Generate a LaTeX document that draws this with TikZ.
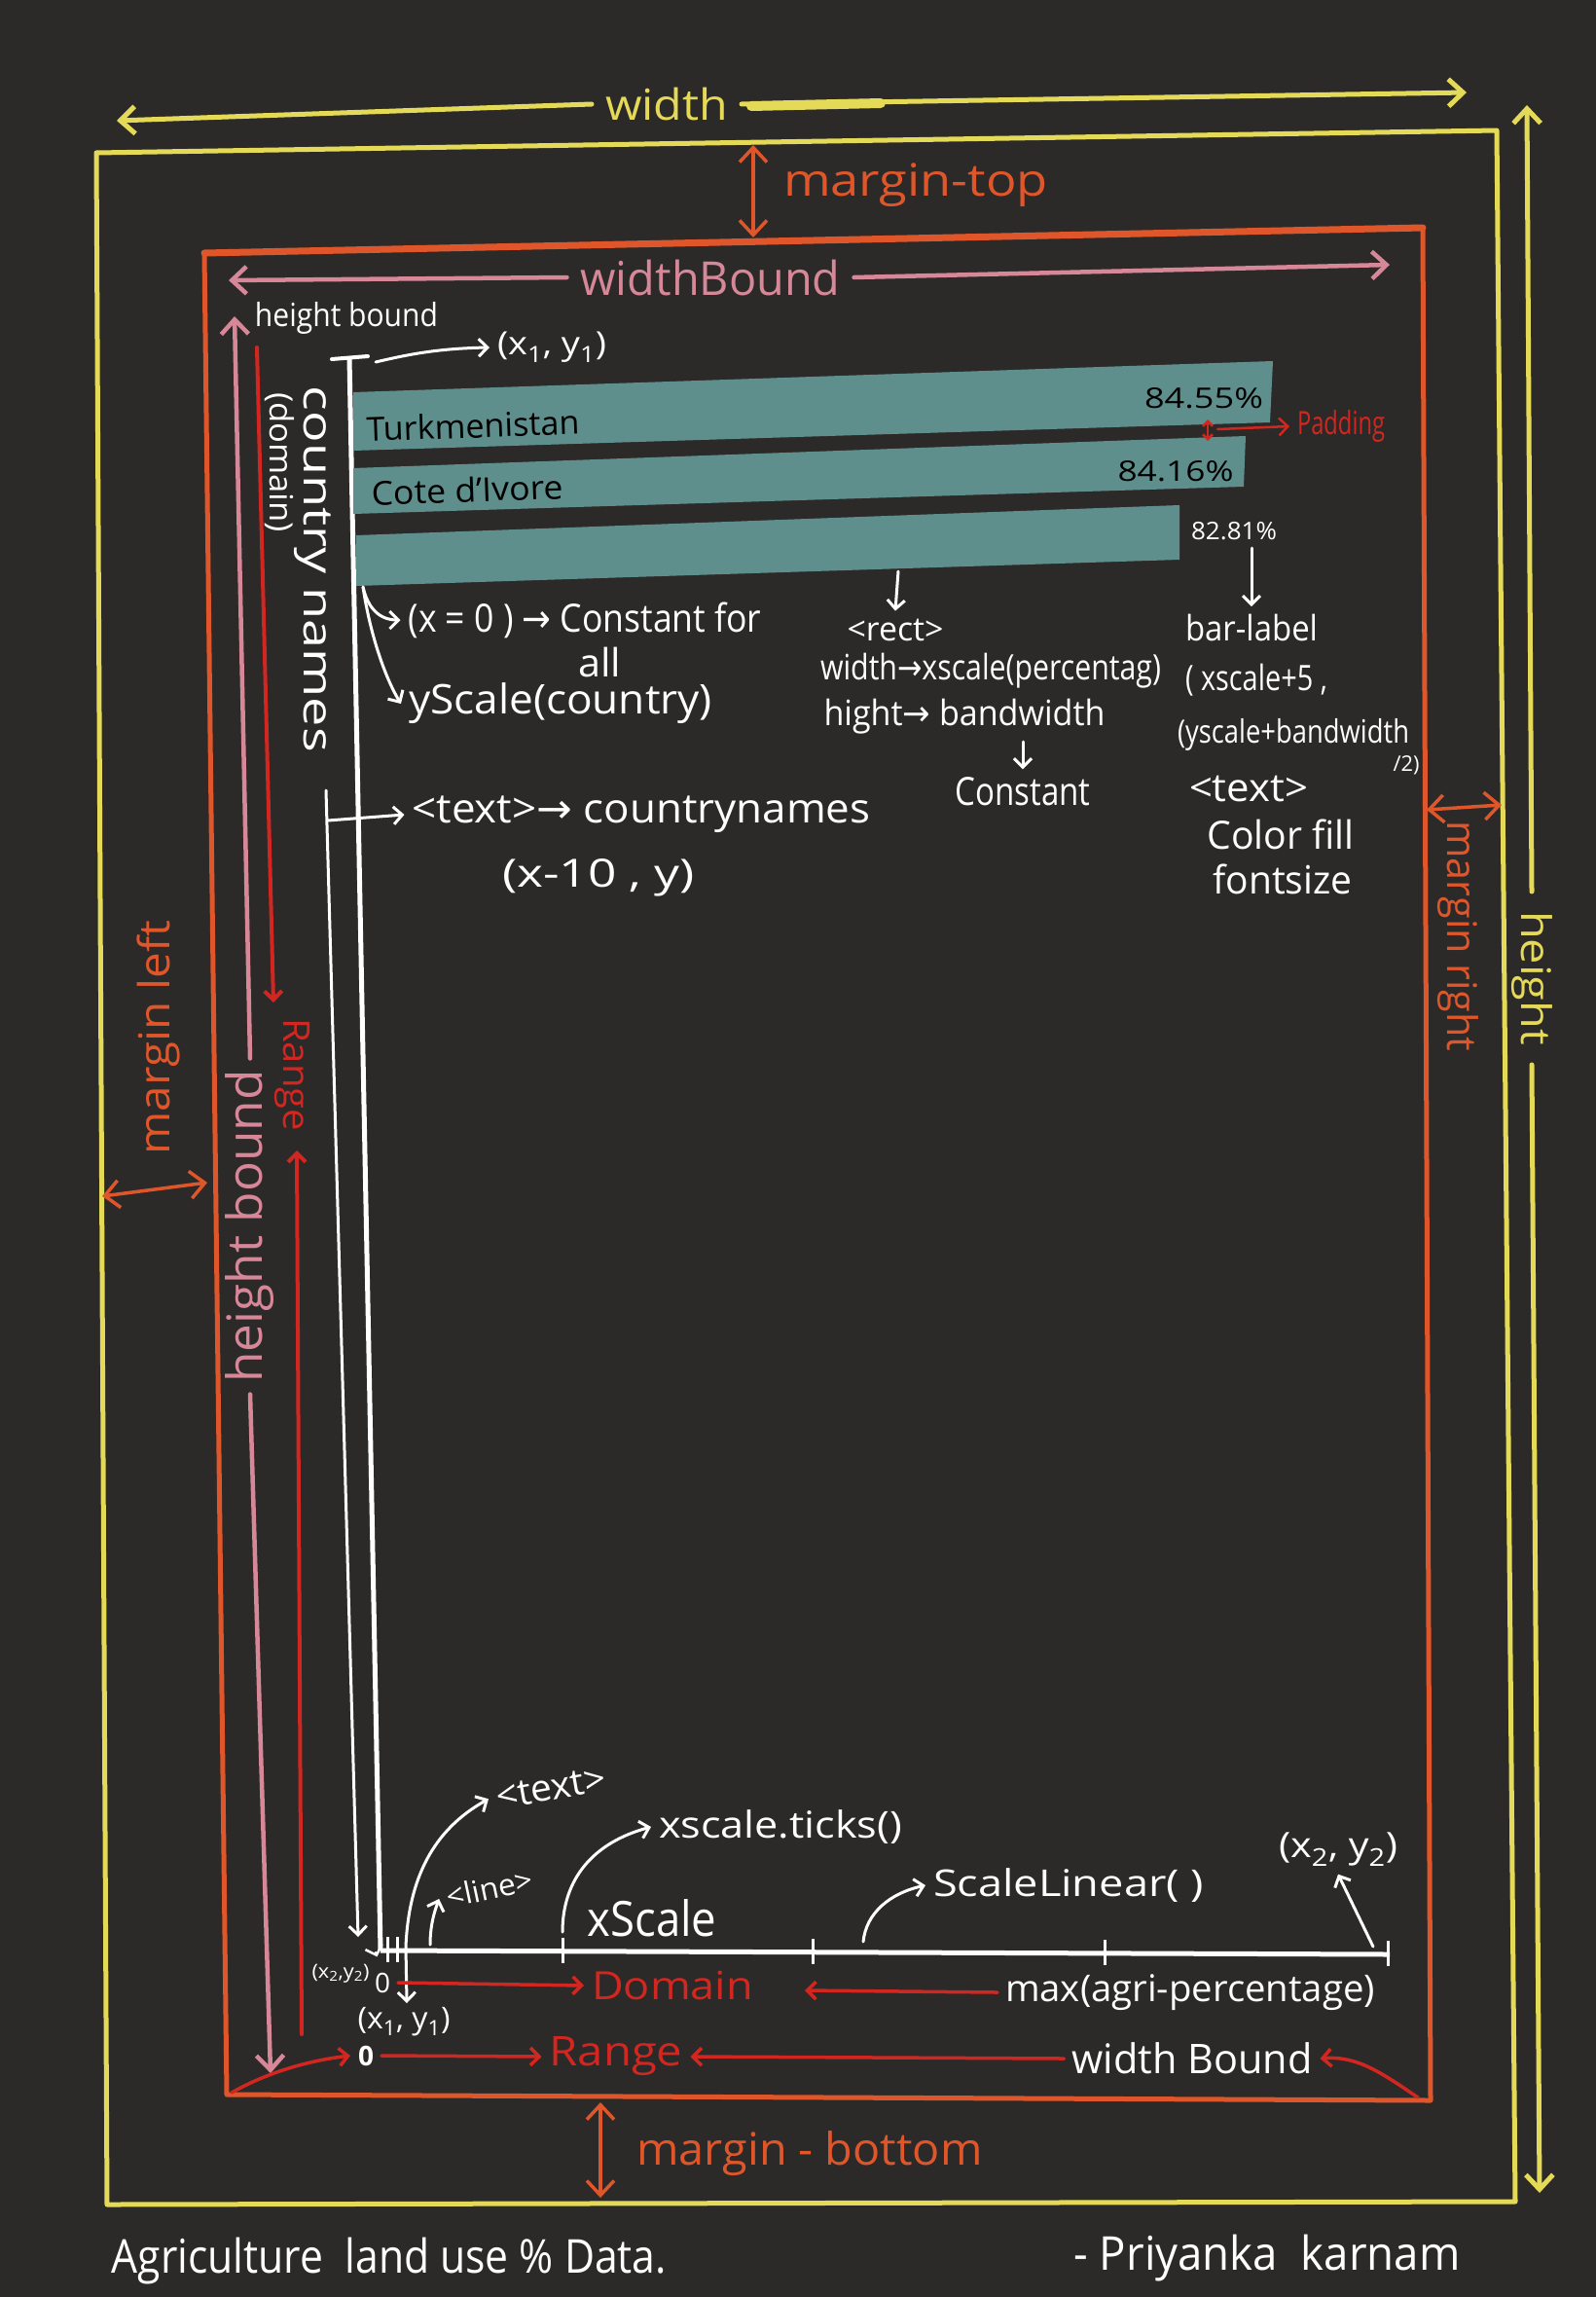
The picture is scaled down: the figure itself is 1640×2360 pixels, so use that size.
\documentclass[tikz,border=0pt]{standalone}
\usepackage{fontspec}
\setmainfont{Open Sans}
\newfontfamily\symf{DejaVu Sans}
\usepackage{graphicx}
\usetikzlibrary{arrows.meta}
\definecolor{bgc}{RGB}{43,42,41}
\definecolor{cyel}{RGB}{229,217,88}
\definecolor{cora}{RGB}{222,86,42}
\definecolor{cpink}{RGB}{214,135,152}
\definecolor{cred}{RGB}{210,38,32}
\definecolor{cteal}{RGB}{95,143,140}
\newcommand\hw[2]{\resizebox{#1pt}{\height}{#2}}
\newcommand\fsz[1]{\fontsize{#1}{#1}\selectfont}
\newcommand\ra{{\symf →}}
\tikzset{
  lab/.style={inner sep=0pt,outer sep=8pt},
  ylab/.style={lab,text=cyel},
  olab/.style={lab,text=cora},
  plab/.style={lab,text=cpink},
  rlab/.style={lab,text=cred},
  wlab/.style={lab,text=white},
  klab/.style={lab,text=black},
  yline/.style={draw=cyel,line width=5pt,line cap=round,line join=round},
  oline/.style={draw=cora,line width=5pt,line cap=round,line join=round},
  pline/.style={draw=cpink,line width=4.5pt,line cap=round},
  rline/.style={draw=cred,line width=3.5pt,line cap=round},
  wline/.style={draw=white,line width=3pt,line cap=round},
  bigE/.style={-{Straight Barb[length=15pt,width=28pt]}},
  bigS/.style={{Straight Barb[length=15pt,width=28pt]}-},
  bigB/.style={{Straight Barb[length=15pt,width=28pt]}-{Straight Barb[length=15pt,width=28pt]}},
  smE/.style={-{Straight Barb[length=9pt,width=18pt]}},
  smS/.style={{Straight Barb[length=9pt,width=18pt]}-},
  smB/.style={{Straight Barb[length=9pt,width=18pt]}-{Straight Barb[length=9pt,width=18pt]}},
  tinyB/.style={{Straight Barb[length=5pt,width=10pt]}-{Straight Barb[length=5pt,width=10pt]}},
  barfill/.style={fill=cteal},
}
\begin{document}
\begin{tikzpicture}[x=1pt,y=-1pt]
\fill[bgc] (0,0) rectangle (1640,2360);
\useasboundingbox (0,0) rectangle (1640,2360);

% ---------- frames ----------
\coordinate (Y1) at (99,157); \coordinate (Y2) at (1538,134);
\coordinate (Y3) at (1557,2262); \coordinate (Y4) at (110,2265);
\draw[yline] (Y1) -- (Y2) -- (Y3) -- (Y4) -- cycle;
\coordinate (O1) at (210,260); \coordinate (O2) at (1462,234);
\coordinate (O3) at (1470,2158); \coordinate (O4) at (233,2152);
\draw[oline] (O1) -- (O2) -- (O3) -- (O4) -- cycle;
\draw[oline,line width=7pt] (O1) -- (O2);

% ---------- width ----------
\node[ylab,font=\fsz{44},outer sep=14pt] (tWidth) at (685,107) {\hw{126}{width}};
\coordinate (WL) at (120,124); \coordinate (WR) at (1507,95);
\draw[yline,bigS] (WL) -- (tWidth.west);
\draw[yline,bigE] (tWidth.east) -- (WR);
\draw[cyel,line width=10pt,line cap=round] (772,109) -- (905,106);

% ---------- height ----------
\node[ylab,font=\fsz{42},rotate=-90,outer sep=20pt] (tHeight) at (1574,1005) {\hw{138}{height}};
\coordinate (HT) at (1569,108); \coordinate (HB) at (1582,2253);
\draw[yline,bigS] (HT) -- (tHeight.west);
\draw[yline,bigE] (tHeight.east) -- (HB);

% ---------- margins ----------
\coordinate (MT1) at (774,149); \coordinate (MT2) at (774,244);
\draw[oline,line width=3.5pt,bigB] (MT1) -- (MT2);
\node[olab,font=\fsz{46}] (tMTop) at (941,190) {\hw{272}{margin-top}};

\coordinate (MB1) at (617,2160); \coordinate (MB2) at (617,2258);
\draw[oline,line width=3.5pt,bigB] (MB1) -- (MB2);
\node[olab,font=\fsz{46}] (tMBot) at (832,2213) {\hw{355}{margin - bottom}};

\coordinate (ML1) at (105,1229); \coordinate (ML2) at (213,1215);
\draw[oline,line width=3.5pt,bigB] (ML1) -- (ML2);
\node[olab,font=\fsz{44},rotate=90] (tMLeft) at (163,1066) {\hw{241}{margin left}};

\coordinate (MR1) at (1466,832); \coordinate (MR2) at (1543,827);
\draw[oline,line width=3.5pt,bigB] (MR1) -- (MR2);
\node[olab,font=\fsz{42},rotate=-90] (tMRight) at (1498,962) {\hw{237}{margin right}};

% ---------- widthBound / height bound ----------
\node[plab,font=\fsz{48},outer sep=14pt] (tWB) at (730,285) {\hw{267}{widthBound}};
\coordinate (WBL) at (235,288); \coordinate (WBR) at (1428,272);
\draw[pline,bigS] (WBL) -- (tWB.west);
\draw[pline,bigE] (tWB.east) -- (WBR);

\node[plab,font=\fsz{50},rotate=90,outer sep=12pt] (tHB) at (257,1260) {\hw{321}{height bound}};
\coordinate (HBT) at (241,325); \coordinate (HBB) at (278,2130);
\draw[pline,bigS] (HBT) -- (tHB.east);
\draw[pline,bigE] (tHB.west) -- (HBB);

% ---------- red Range (left) ----------
\node[rlab,font=\fsz{38},rotate=-90] (tRangeL) at (300,1104) {\hw{116}{Range}};
\coordinate (RLT) at (264,357); \coordinate (RLa) at (281,1030);
\coordinate (RLb) at (305,1182); \coordinate (RLB) at (310,2090);
\draw[rline,line width=4pt,smE] (RLT) -- (RLa);
\draw[rline,line width=4pt,smS] (RLb) -- (RLB);

% ---------- y axis ----------
\node[wlab,font=\fsz{33}] (tHBw) at (356,327) {\hw{188}{height bound}};
\coordinate (AxT) at (359,368); \coordinate (AxO) at (391,2004);
\draw[white,line width=5pt] (AxT) -- (AxO);
\draw[white,line width=4pt,line cap=round] (341,369) -- (378,366);
\node[wlab,font=\fsz{33}] (tX1Y1) at (567,357) {\hw{112}{(x\textsubscript{1}, y\textsubscript{1})}};
\coordinate (AxA) at (386,372);
\draw[wline,smE] (AxA) .. controls (420,364) and (450,358) .. (tX1Y1.west);

\node[wlab,font=\fsz{33},rotate=-90] (tDomain) at (287,475) {\hw{144}{(domain)}};
\node[wlab,font=\fsz{42},rotate=-90] (tCountry) at (321,585) {\hw{376}{country names}};

% ---------- bars ----------
\fill[barfill] (363,403) -- (1308,371) -- (1305,434) -- (363,463) -- cycle;
\fill[barfill] (363,481) -- (1280,448) -- (1278,500) -- (363,528) -- cycle;
\fill[barfill] (366,550) -- (1212,519) -- (1212,575) -- (366,602) -- cycle;
\node[klab,font=\fsz{34},rotate=2] (tTurk) at (486,437) {\hw{219}{Turkmenistan}};
\node[klab,font=\fsz{34},rotate=2] (tCote) at (480,503) {\hw{197}{Cote d'Ivore}};
\node[klab,font=\fsz{29}] (tP1) at (1237,409) {\hw{122}{84.55\%}};
\node[klab,font=\fsz{29}] (tP2) at (1208,484) {\hw{119}{84.16\%}};
\node[wlab,font=\fsz{25}] (tP3) at (1268,546) {\hw{88}{82.81\%}};

% padding
\coordinate (PD1) at (1241,431); \coordinate (PD2) at (1241,453); \coordinate (PD3) at (1251,441);
\draw[rline,line width=2.5pt,tinyB] (PD1) -- (PD2);
\node[rlab,font=\fsz{33}] (tPad) at (1378,438) {\hw{90}{Padding}};
\draw[rline,line width=2.5pt,smE] (PD3) -- (tPad.west);

% ---------- annotations middle ----------
\coordinate (C0) at (373,603);
\node[wlab,font=\fsz{40}] (tX0) at (601,637) {\hw{363}{(x = 0 ) \ra\ Constant for}};
\node[wlab,font=\fsz{40}] (tAll) at (616,680) {\hw{44}{all}};
\node[wlab,font=\fsz{42}] (tYS) at (576,723) {\hw{312}{yScale(country)}};
\draw[wline,smE] (C0) .. controls (378,625) and (390,637) .. (tX0.west);
\draw[wline,smE] (C0) .. controls (380,650) and (395,695) .. (tYS.west);

\coordinate (TLt) at (335,812); \coordinate (TLb) at (368,1990); \coordinate (TLh) at (337,843);
\draw[wline,smE] (TLt) -- (TLb);
\node[wlab,font=\fsz{42}] (tCN) at (659,837) {\hw{471}{<text>\ra\ countrynames}};
\draw[wline,smE] (TLh) -- (tCN.west);
\node[wlab,font=\fsz{40}] (tX10) at (615,902) {\hw{198}{(x-10 , y)}};

\coordinate (RA) at (923,587);
\node[wlab,font=\fsz{34}] (tRect) at (920,647) {\hw{99}{<rect>}};
\draw[wline,smE] (RA) -- (tRect.north);
\node[wlab,font=\fsz{36}] (tWX) at (1018,689) {\hw{350}{width\ra xscale(percentag)}};
\node[wlab,font=\fsz{36}] (tHBW) at (991,736) {\hw{289}{hight\ra\ bandwidth}};
\node[wlab,font=\fsz{40}] (tConst) at (1051,813) {\hw{139}{Constant}};
\draw[wline,smE] (tHBW.south -| tConst.north) -- (tConst.north);

\node[wlab,font=\fsz{36}] (tBL) at (1286,645) {\hw{136}{bar-label}};
\draw[wline,smE] (tP3.south -| tBL.north) -- (tBL.north);
\node[wlab,font=\fsz{36}] (tXS5) at (1291,699) {\hw{146}{( xscale+5 ,}};
\node[wlab,font=\fsz{33}] (tYSB) at (1329,755) {\hw{238}{(yscale+bandwidth}};
\node[wlab,font=\fsz{22}] (tHalf) at (1445,786) {\hw{27}{/2)}};
\node[wlab,font=\fsz{40}] (tTextR) at (1283,811) {\hw{122}{<text>}};
\node[wlab,font=\fsz{40}] (tColor) at (1316,857) {\hw{151}{Color fill}};
\node[wlab,font=\fsz{40}] (tFont) at (1318,903) {\hw{143}{fontsize}};

% ---------- x axis ----------
\coordinate (XR) at (1428,2008);
\draw[white,line width=5pt] (AxO) -- (XR);
\foreach \tx/\ty in {398/2003,408/2003,578/2004,835/2005,1135/2006,1426/2007}
  \draw[white,line width=3pt] (\tx,\ty-13) -- (\tx,\ty+13);

\node[wlab,font=\fsz{38},rotate=10] (tTxtB) at (566,1837) {\hw{114}{<text>}};
\coordinate (OX1) at (418,2058); \coordinate (OX2) at (417,2000);
\draw[wline,smB] (OX1) -- (OX2) .. controls (420,1930) and (445,1880) .. (tTxtB.west);

\node[wlab,font=\fsz{31},rotate=12] (tLine) at (503,1940) {\hw{90}{<line>}};
\coordinate (LN) at (442,1998);
\draw[wline,smE] (LN) .. controls (442,1975) and (448,1960) .. (tLine.west);

\node[wlab,font=\fsz{38}] (tTicks) at (802,1877) {\hw{250}{xscale.ticks()}};
\coordinate (TK) at (578,1985);
\draw[wline,smE] (TK) .. controls (578,1930) and (610,1893) .. (tTicks.west);

\node[wlab,font=\fsz{50}] (tXScale) at (670,1971) {\hw{133}{xScale}};

\node[wlab,font=\fsz{38}] (tSL) at (1098,1937) {\hw{278}{ScaleLinear( )}};
\coordinate (SLs) at (887,1995);
\draw[wline,smE] (SLs) .. controls (890,1965) and (915,1945) .. (tSL.west);

\node[wlab,font=\fsz{36}] (tX2R) at (1375,1900) {\hw{122}{(x\textsubscript{2}, y\textsubscript{2})}};
\coordinate (X2s) at (1411,2000);
\draw[wline,smE] (X2s) -- (tX2R.south);

% origin labels
\node[wlab,font=\fsz{20}] (tX2L) at (350,2028) {\hw{59}{(x\textsubscript{2},y\textsubscript{2})}};
\coordinate (X2a) at (386,2006);
\draw[wline,line width=2.5pt,smE] (X2a) -- (tX2L.north east);
\node[wlab,font=\fsz{28}] (tZeroA) at (393,2037) {0};
\node[wlab,font=\fsz{31}] (tX1B) at (415,2077) {\hw{95}{(x\textsubscript{1}, y\textsubscript{1})}};

\node[rlab,font=\fsz{40}] (tDom) at (691,2040) {\hw{166}{Domain}};
\draw[rline,smE] (tZeroA.east) -- (tDom.west);
\node[wlab,font=\fsz{38}] (tMax) at (1223,2047) {\hw{380}{max(agri-percentage)}};
\coordinate (MXe) at (827,2045);
\draw[rline,smE] (tMax.west) -- (MXe);

\node[wlab,font=\fsz{28}] (tZeroB) at (376,2112) {\textbf{0}};
\node[rlab,font=\fsz{42}] (tRangeB) at (633,2113) {\hw{137}{Range}};
\node[wlab,font=\fsz{42}] (tWBb) at (1225,2115) {\hw{247}{width Bound}};
\draw[rline,smE] (tZeroB.east) -- (tRangeB.west);
\draw[rline,smE] (tWBb.west) -- (tRangeB.east);
\coordinate (CBL) at (238,2150); \coordinate (CBR) at (1457,2155);
\draw[rline,smE] (CBL) .. controls (270,2132) and (310,2118) .. (tZeroB.west);
\draw[rline,smE] (CBR) .. controls (1420,2130) and (1395,2112) .. (tWBb.east);

% ---------- footer ----------
\node[wlab,font=\fsz{48}] (tFoot) at (400,2323) {\hw{570}{Agriculture\ \ land use \% Data.}};
\node[wlab,font=\fsz{48}] (tAuthor) at (1302,2320) {\hw{397}{- Priyanka\ \ karnam}};
\end{tikzpicture}
\end{document}
